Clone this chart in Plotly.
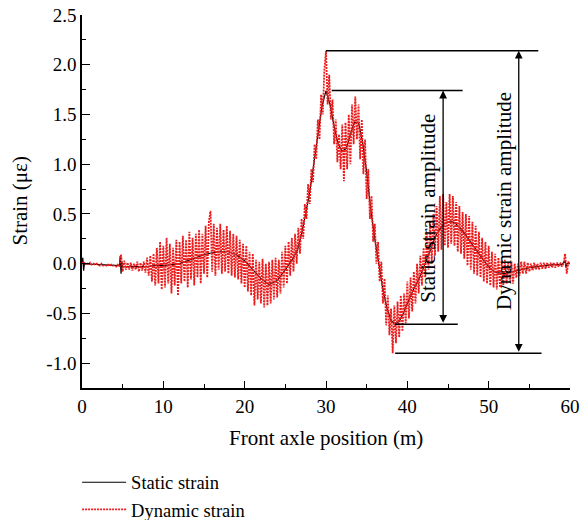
import plotly.graph_objects as go

# ---------------- data ----------------
static_x = [0, 0.1, 0.2, 0.3, 1, 2, 3, 4, 4.6, 4.7, 4.8, 4.9, 5, 6, 7, 8, 9, 10,
            11, 12, 13, 14, 15, 16, 17, 18, 19, 20, 21, 22, 23, 24, 25, 26, 26.5,
            27, 27.5, 28, 28.5, 29, 29.5, 30, 30.5, 31, 31.5, 32, 32.5, 33, 33.5,
            34, 34.5, 35, 35.5, 36, 36.5, 37, 37.5, 38, 38.5, 39, 39.5, 40, 40.5,
            41, 41.5, 42, 42.5, 43, 43.5, 44, 44.5, 45, 45.5, 46, 46.5, 47, 47.5,
            48, 48.5, 49, 49.5, 50, 50.5, 51, 52, 53, 54, 55, 56, 57, 58, 59,
            59.4, 59.5, 59.6, 60]
static_strain = [0, 0.06, -0.07, 0.0, -0.005, -0.01, -0.015, -0.02, -0.02, 0.08, -0.1, 0.02,
                 -0.03, -0.03, -0.03, -0.03, -0.02, -0.02,
                 -0.01, 0.0, 0.03, 0.06, 0.09, 0.11, 0.12, 0.12, 0.09, 0.03, -0.06, -0.15,
                 -0.21, -0.17, -0.06, 0.06, 0.14,
                 0.3, 0.5, 0.72, 1.0, 1.3, 1.58, 1.74, 1.6, 1.38, 1.2, 1.13, 1.16, 1.3, 1.42,
                 1.42, 1.22, 0.92, 0.55, 0.25, -0.02, -0.26, -0.45, -0.57, -0.61, -0.58, -0.5,
                 -0.4, -0.3, -0.22, -0.14, -0.04, 0.07, 0.18, 0.28, 0.35, 0.4, 0.42, 0.42,
                 0.4, 0.36, 0.31, 0.25, 0.19, 0.13, 0.07, 0.02, -0.03, -0.07, -0.09,
                 -0.1, -0.08, -0.06, -0.04, -0.03, -0.02, -0.01, -0.01,
                 0.03, -0.04, 0.0, 0.0]

dyn_step = 0.2  # sampling interval of dynamic record (m)
dynamic_strain = [
    0.0, 0.02, -0.01, 0.01, -0.01, 0.01, -0.01, 0.0, -0.01, 0.0,
    -0.01, -0.02, 0.0, -0.02, -0.01, -0.02, -0.01, -0.02, -0.01, -0.02,
    -0.02, -0.03, -0.01, -0.03, 0.09, -0.08, 0.03, -0.06, 0.01, -0.06,
    0.01, -0.07, 0.0, -0.06, 0.02, -0.08, 0.01, -0.07, 0.02, -0.09,
    0.06, -0.12, 0.08, -0.18, 0.1, -0.22, 0.16, -0.2, 0.22, -0.26,
    0.18, -0.24, 0.26, -0.2, 0.2, -0.3, 0.16, -0.22, 0.24, -0.32,
    0.22, -0.2, 0.28, -0.18, 0.24, -0.24, 0.32, -0.16, 0.26, -0.22,
    0.3, -0.14, 0.34, -0.2, 0.3, -0.1, 0.38, -0.14, 0.42, 0.53,
    -0.08, 0.4, -0.12, 0.36, -0.06, 0.4, -0.1, 0.34, -0.08, 0.38,
    -0.1, 0.33, -0.12, 0.3, -0.14, 0.28, -0.16, 0.24, -0.2, 0.2,
    -0.24, 0.18, -0.28, 0.12, -0.32, 0.1, -0.42, 0.04, -0.36, 0.02,
    -0.4, 0.05, -0.44, 0.0, -0.42, 0.02, -0.4, 0.04, -0.36, 0.06,
    -0.34, 0.04, -0.3, 0.12, -0.24, 0.18, -0.2, 0.22, -0.12, 0.26,
    -0.08, 0.3, 0.0, 0.36, 0.1, 0.45, 0.25, 0.6, 0.45, 0.8,
    0.6, 0.95, 0.82, 1.2, 1.05, 1.45, 1.25, 1.7, 1.5, 1.95,
    2.14, 1.6, 1.9, 1.45, 1.65, 1.2, 1.45, 1.02, 1.3, 0.95,
    1.4, 0.83, 1.42, 0.95, 1.5, 1.0, 1.6, 1.2, 1.68, 1.25,
    1.6, 1.05, 1.45, 0.9, 1.25, 0.65, 0.95, 0.45, 0.68, 0.22,
    0.4, 0.0, 0.22, -0.18, 0.02, -0.4, -0.15, -0.62, -0.32, -0.72,
    -0.45, -0.9, -0.42, -0.8, -0.38, -0.74, -0.32, -0.68, -0.3, -0.6,
    -0.18, -0.55, -0.14, -0.48, -0.08, -0.4, 0.0, -0.3, 0.08, -0.22,
    0.16, -0.14, 0.3, -0.06, 0.42, 0.0, 0.5, 0.08, 0.58, 0.12,
    0.68, 0.14, 0.7, 0.18, 0.62, 0.16, 0.7, 0.2, 0.68, 0.18,
    0.62, 0.12, 0.58, 0.1, 0.52, 0.05, 0.5, -0.02, 0.48, -0.06,
    0.42, -0.1, 0.38, -0.12, 0.32, -0.14, 0.26, -0.18, 0.22, -0.2,
    0.18, -0.22, 0.12, -0.24, 0.1, -0.26, 0.06, -0.24, 0.04, -0.22,
    0.04, -0.2, 0.02, -0.18, 0.02, -0.2, 0.0, -0.14, 0.0, -0.12,
    0.02, -0.1, 0.02, -0.1, 0.01, -0.08, 0.0, -0.07, 0.01, -0.06,
    0.0, -0.06, 0.01, -0.05, 0.01, -0.05, 0.01, -0.04, 0.01, -0.04,
    0.01, -0.04, 0.01, -0.03, 0.01, -0.03, 0.0, 0.1, -0.1, 0.02,
    0.0,
]
dynamic_x = [round(i * dyn_step, 1) for i in range(len(dynamic_strain))]

x_ticks = [0, 10, 20, 30, 40, 50, 60]
x_tick_labels = ["0", "10", "20", "30", "40", "50", "60"]
y_ticks = [-1.0, -0.5, 0.0, 0.5, 1.0, 1.5, 2.0, 2.5]
y_tick_labels = ["-1.0", "-0.5", "0.0", "0.5", "1.0", "1.5", "2.0", "2.5"]

# amplitude extremes taken from the series
s_max = max(static_strain); s_max_x = static_x[static_strain.index(s_max)]
s_min = min(static_strain); s_min_x = static_x[static_strain.index(s_min)]
d_max = max(dynamic_strain); d_max_x = dynamic_x[dynamic_strain.index(d_max)]
d_min = min(dynamic_strain); d_min_x = dynamic_x[dynamic_strain.index(d_min)]

FONT = "Liberation Serif"
TXT = 21

fig = go.Figure()
fig.add_trace(go.Scatter(x=static_x, y=static_strain, mode="lines", name="Static strain",
                         line=dict(color="black", width=1.2)))
fig.add_trace(go.Scatter(x=dynamic_x, y=dynamic_strain, mode="lines", name="Dynamic strain",
                         line=dict(color="#ec1c1c", width=1.8, dash="2px,1px")))

# amplitude guide lines
line_style = dict(color="black", width=1.5)
fig.add_shape(type="line", x0=d_max_x, x1=56.1, y0=d_max, y1=d_max, line=line_style)
fig.add_shape(type="line", x0=s_max_x + 0.7, x1=46.8, y0=s_max, y1=s_max, line=line_style)
fig.add_shape(type="line", x0=s_min_x, x1=46.2, y0=s_min, y1=s_min, line=line_style)
fig.add_shape(type="line", x0=s_min_x, x1=56.5, y0=d_min, y1=d_min, line=line_style)

for xa, lo, hi in [(44.4, s_min, s_max), (53.7, d_min, d_max)]:
    fig.add_annotation(x=xa, y=hi, ax=xa, ay=lo, xref="x", yref="y", axref="x", ayref="y",
                       text="", showarrow=True, arrowhead=2, arrowside="end+start",
                       arrowsize=1.2, arrowwidth=1.3, arrowcolor="black", standoff=0, startstandoff=0)

fig.add_annotation(x=42.5, y=0.56, xref="x", yref="y", text="Static strain amplitude",
                   textangle=-90, showarrow=False, xanchor="center", yanchor="middle",
                   font=dict(family=FONT, size=TXT, color="black"))
fig.add_annotation(x=51.9, y=0.63, xref="x", yref="y", text="Dynamic strain amplitude",
                   textangle=-90, showarrow=False, xanchor="center", yanchor="middle",
                   font=dict(family=FONT, size=TXT, color="black"))

# axis titles
fig.add_annotation(x=-0.129, y=0.5, xref="paper", yref="paper", text="Strain (με)",
                   textangle=-90, showarrow=False, xanchor="center", yanchor="middle",
                   font=dict(family=FONT, size=TXT, color="black"))
fig.add_annotation(x=0.5, y=-0.134, xref="paper", yref="paper", text="Front axle position (m)",
                   showarrow=False, xanchor="center", yanchor="middle",
                   font=dict(family=FONT, size=TXT, color="black"))

fig.update_layout(
    width=585, height=520,
    margin=dict(l=82, r=15, t=15, b=132, autoexpand=False),
    paper_bgcolor="white", plot_bgcolor="white",
    font=dict(family=FONT, size=19, color="black"),
    showlegend=True,
    legend=dict(x=-0.01, y=-0.203, xanchor="left", yanchor="top",
                font=dict(family=FONT, size=18.5, color="black"),
                itemwidth=44, bgcolor="rgba(0,0,0,0)"),
    xaxis=dict(range=[0, 60], tickmode="array", tickvals=x_ticks, ticktext=x_tick_labels,
               ticks="inside", ticklen=7, tickwidth=1.2, tickcolor="black",
               minor=dict(dtick=5, ticks="inside", ticklen=4, tickwidth=1.2, tickcolor="black", showgrid=False),
               showline=True, linecolor="black", linewidth=1.5, mirror=False,
               showgrid=False, zeroline=False, tickfont=dict(family=FONT, size=19)),
    yaxis=dict(range=[-1.25, 2.5], tickmode="array", tickvals=y_ticks, ticktext=y_tick_labels,
               ticks="inside", ticklen=8, tickwidth=1.2, tickcolor="black",
               minor=dict(dtick=0.25, tick0=0, ticks="inside", ticklen=4, tickwidth=1.2, tickcolor="black", showgrid=False),
               showline=True, linecolor="black", linewidth=1.5, mirror=False,
               showgrid=False, zeroline=False, tickfont=dict(family=FONT, size=19)),
)

fig.write_html("out.html")
